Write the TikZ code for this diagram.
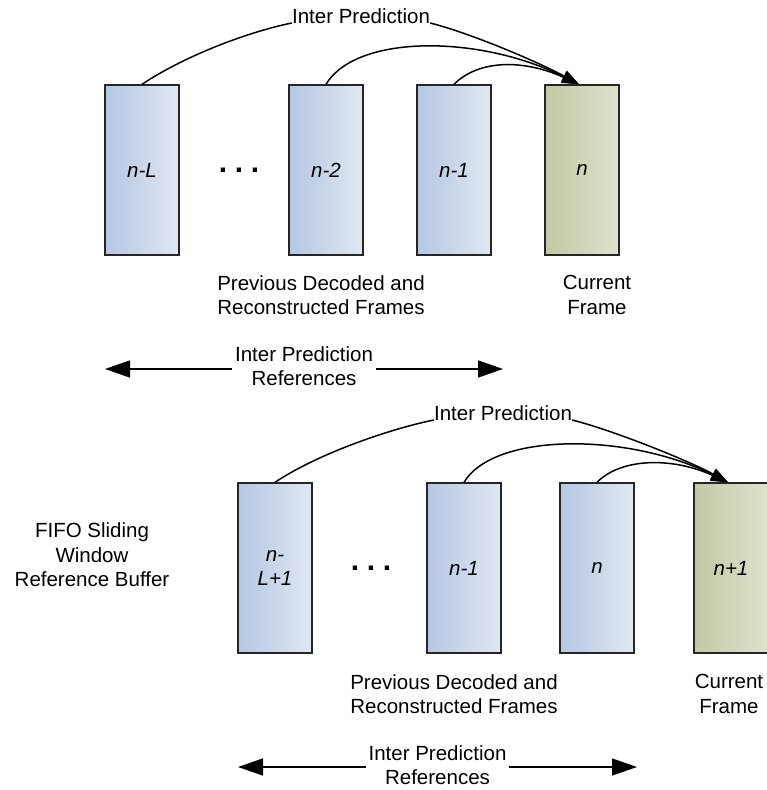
\documentclass[tikz,border=0pt]{standalone}
\usepackage{fontspec}
\setmainfont{Liberation Sans}
\usetikzlibrary{arrows.meta}
\definecolor{blueL}{RGB}{181,199,227}
\definecolor{blueR}{RGB}{224,231,242}
\definecolor{greenL}{RGB}{194,201,163}
\definecolor{greenR}{RGB}{223,226,205}
\begin{document}
\begin{tikzpicture}[x=1pt,y=-1pt,
  every node/.style={font=\fontsize{20.5}{24.5}\selectfont},
  framebox/.style={draw=black!85, line width=1.4pt, minimum width=74pt, minimum height=170pt,
     inner sep=0pt, left color=blueL, right color=blueR, align=center,
     font=\fontsize{20.5}{24.5}\selectfont\itshape},
  curframe/.style={framebox, left color=greenL, right color=greenR},
  txt/.style={align=center, inner sep=0pt},
  pred/.style={line width=1.5pt, -{Triangle[length=17pt,width=12pt]}},
  predplain/.style={line width=1.5pt},
  refarrow/.style={line width=1.4pt, {Triangle[length=25pt,width=17pt]}-{Triangle[length=25pt,width=17pt]}},
  dotsstyle/.style={inner sep=0pt, font=\fontsize{30}{30}\selectfont\bfseries}
]
\useasboundingbox (0,0) rectangle (767,790);

% ---------------- top part ----------------
\node[framebox] (fL) at (142,170) {n-L};
\node[dotsstyle, anchor=base] (dT) at (239,172) {.\hspace{7.7pt}.\hspace{7.7pt}.};
\node[framebox] (f2) at (326,170) {n-2};
\node[framebox] (f1) at (454,170) {n-1};
\node[curframe] (fN) at (582,170) {n};

\node[txt, anchor=base] (ipT) at (361,23) {Inter Prediction};
\draw[predplain] (fL.north) .. controls +(45,-30) and +(-40,8) .. (ipT.base west);
\draw[pred] (ipT.base east) .. controls +(40,10) and +(-40,-22) .. ([xshift=-3pt]fN.north);
\draw[pred] (f2.north) .. controls +(30,-50) and +(-100,-50) .. ([xshift=-3pt]fN.north);
\draw[pred] (f1.north) .. controls +(25,-25) and +(-55,-25) .. ([xshift=-3pt]fN.north);

\node[txt] (prevT) at (321,295) {Previous Decoded and\\Reconstructed Frames};
\node[txt] (curT) at (597,295) {Current\\Frame};

\coordinate (rTl) at (105,369);
\coordinate (rTr) at (503,369);
\draw[refarrow] (rTl) -- (rTr) node[midway, txt, fill=white, inner xsep=3pt, yshift=3pt] (refT) {Inter Prediction\\References};

% ---------------- bottom part ----------------
\node[txt] (fifo) at (92,555) {FIFO Sliding\\Window\\Reference Buffer};

\node[framebox] (gL) at (275,568) {n-\\L+1};
\node[dotsstyle, anchor=base] (dB) at (371,570) {.\hspace{7.7pt}.\hspace{7.7pt}.};
\node[framebox] (g1) at (464,568) {n-1};
\node[framebox] (g0) at (597,568) {n};
\node[curframe] (gN) at (731,568) {n+1};

\node[txt, anchor=base] (ipB) at (503,420) {Inter Prediction};
\draw[predplain] (gL.north) .. controls +(45,-30) and +(-40,8) .. (ipB.base west);
\draw[pred] (ipB.base east) .. controls +(40,10) and +(-40,-22) .. ([xshift=-3pt]gN.north);
\draw[pred] (g1.north) .. controls +(30,-50) and +(-100,-50) .. ([xshift=-3pt]gN.north);
\draw[pred] (g0.north) .. controls +(25,-25) and +(-55,-25) .. ([xshift=-3pt]gN.north);

\node[txt] (prevB) at (454,694) {Previous Decoded and\\Reconstructed Frames};
\node[txt] (curB) at (729,694) {Current\\Frame};

\coordinate (rBl) at (238,767);
\coordinate (rBr) at (637,767);
\draw[refarrow] (rBl) -- (rBr) node[midway, txt, fill=white, inner xsep=3pt, yshift=2pt] (refB) {Inter Prediction\\References};
\end{tikzpicture}
\end{document}
